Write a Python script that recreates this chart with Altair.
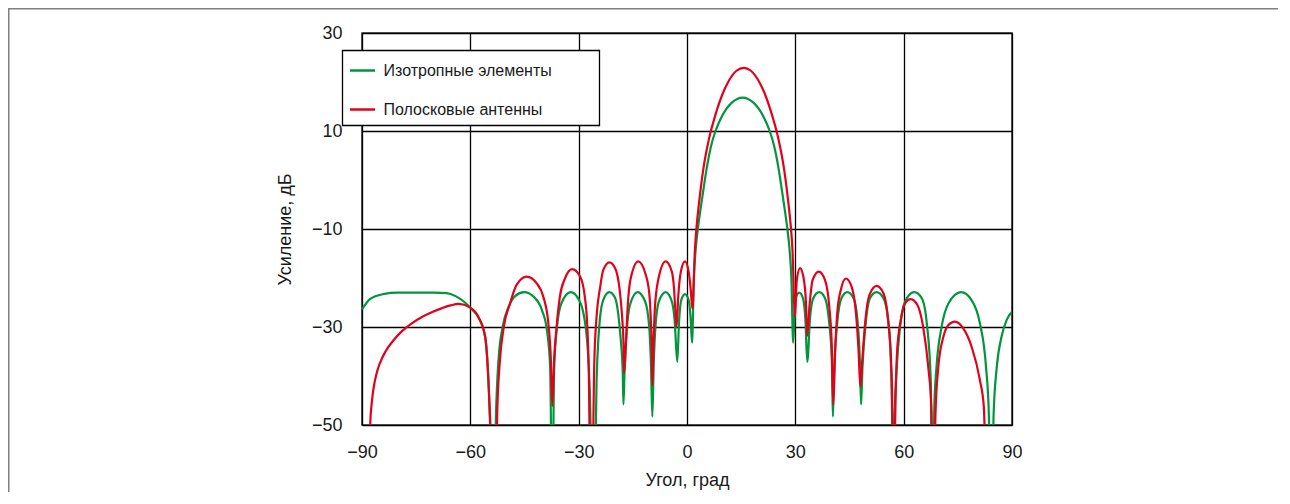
import altair as alt
import pandas as pd

# ---- data ----
series_names = ["Изотропные элементы", "Полосковые антенны"]
series_colors = ["#00963c", "#e3001b"]

green_x = [-90.0, -87.8, -84.2, -80.0, -75.0, -70.0, -66.5, -64.1, -61.8, -59.6, -57.8, -55.9, -55.0, -54.3, -53.7,
           -52.9, -52.2, -51.0, -49.4, -47.6, -45.1, -42.5, -40.2, -38.8, -37.9, -37.3,
           -36.8, -36.0, -34.8, -32.2, -29.9, -28.5, -27.6, -26.9, -25.9,
           -25.0, -24.5, -24.1, -23.2, -21.5, -19.9, -19.0, -18.3, -17.8, -17.6,
           -17.3, -16.7, -15.8, -13.7, -11.6, -10.5, -10.0, -9.6,
           -9.2, -8.7, -7.8, -5.9, -4.2, -3.4, -2.7,
           -2.2, -1.6, -0.55, 0.45, 1.0, 1.4,
           1.9, 2.4, 3.0, 3.7, 4.5, 5.3, 6.1, 7.0, 7.9, 9.4, 10.9, 12.4, 13.9, 15.4,
           16.9, 18.4, 19.9, 21.4, 22.9, 23.8, 24.7, 25.5, 26.3, 27.1, 27.8, 28.4, 28.9, 29.4,
           29.9, 30.4, 31.1, 32.1, 32.8, 33.3,
           34.1, 35.0, 36.6, 38.2, 39.3, 40.1, 40.4,
           40.8, 41.6, 42.8, 44.4, 46.1, 47.2, 47.9, 48.2,
           48.6, 49.5, 50.7, 52.5, 54.4, 55.7, 56.5, 56.9, 57.05,
           57.2, 58.1, 59.0, 60.4, 62.9, 65.0, 66.4, 67.5, 68.0,
           68.5, 69.1, 70.5, 72.4, 75.9, 78.8, 81.1, 82.8, 83.6, 84.3,
           84.9, 85.8, 87.1, 88.5, 90.0]
green_y = [-26.4, -24.3, -23.3, -23.0, -23.0, -23.0, -23.1, -23.7, -24.8, -26.4, -28.0, -32.0, -40.8, -56.0, -80.0,
           -48.0, -36.7, -29.8, -25.9, -23.7, -22.9, -23.8, -26.5, -30.6, -38.1, -70.0,
           -38.8, -30.0, -25.2, -22.9, -24.5, -27.9, -33.3, -43.5, -80.0,
           -40.0, -32.0, -28.2, -24.5, -22.9, -24.1, -27.6, -33.0, -39.1, -45.8,
           -39.1, -31.0, -25.5, -22.9, -24.8, -29.6, -37.1, -48.3,
           -37.1, -29.6, -24.8, -22.9, -24.8, -28.9, -37.1,
           -28.9, -24.5, -23.3, -24.5, -28.2, -33.2,
           -20.0, -14.2, -10.0, -6.2, -2.2, 1.7, 5.0, 7.9, 10.0, 12.6, 14.5, 15.8, 16.55, 16.8,
           16.55, 15.8, 14.5, 12.6, 10.0, 7.9, 5.0, 1.7, -2.2, -6.2, -10.0, -14.2, -20.0, -33.2,
           -25.9, -23.5, -23.0, -24.1, -28.6, -37.1,
           -27.9, -24.1, -22.9, -24.1, -28.6, -36.7, -48.3,
           -38.1, -29.2, -24.1, -22.9, -24.1, -28.6, -37.4, -45.8,
           -38.1, -29.2, -24.1, -22.9, -24.1, -28.6, -38.1, -55.0, -80.0,
           -55.0, -38.1, -30.0, -24.8, -22.9, -24.1, -29.2, -40.8, -80.0,
           -46.0, -38.1, -30.0, -25.2, -22.9, -24.5, -29.2, -38.1, -48.0, -80.0,
           -48.0, -38.1, -32.0, -28.6, -26.9]

red_x = [-88.0, -87.7, -87.3, -86.8, -86.0, -85.0, -83.5, -81.5, -79.0, -76.5, -74.0, -71.0, -68.0, -65.5, -63.2,
         -60.1, -57.8, -55.9, -55.0, -54.2, -53.4,
         -52.5, -51.8, -50.7, -49.0, -47.2, -44.4, -41.6, -39.8, -38.4, -37.7, -37.3,
         -36.8, -36.1, -35.2, -33.8, -31.8, -29.6, -28.3, -27.6, -27.2, -26.5,
         -25.7, -25.0, -24.1, -23.2, -21.5, -19.9, -18.7, -18.0, -17.6, -17.4,
         -16.9, -16.4, -15.6, -13.5, -11.4, -10.4, -10.0, -9.7, -9.6,
         -9.3, -8.9, -7.9, -5.9, -4.2, -3.6, -3.2, -2.9,
         -2.4, -1.7, -0.55, 0.45, 1.0, 1.5,
         2.2, 2.7, 3.2, 3.8, 4.7, 5.6, 6.6, 7.4, 8.2, 9.7, 11.7, 13.7, 15.7,
         17.7, 19.7, 21.7, 23.2, 24.0, 24.8, 25.8, 26.7, 27.6, 28.2, 28.7, 29.2, 29.9,
         30.4, 31.3, 32.2, 32.9, 33.3,
         33.9, 34.8, 36.5, 38.2, 39.4, 40.1, 40.5,
         41.0, 41.6, 42.6, 44.0, 45.6, 46.8, 47.5, 48.0,
         48.6, 49.4, 50.5, 52.5, 54.4, 55.7, 56.5, 56.8, 57.2,
         57.6, 58.2, 59.2, 60.4, 61.9, 63.8, 65.4, 66.8, 67.7, 68.3,
         68.8, 69.6, 71.0, 72.4, 74.2, 76.5, 78.8, 81.1, 82.2, 83.1]
red_y = [-58.0, -49.5, -45.5, -42.5, -39.6, -37.3, -35.0, -32.9, -30.9, -29.4, -28.2, -27.1, -26.2, -25.6, -25.3,
         -26.0, -27.9, -32.0, -40.8, -56.0, -80.0,
         -46.1, -36.7, -29.8, -25.2, -21.4, -19.7, -21.1, -23.8, -29.2, -36.7, -46.1,
         -36.7, -29.8, -23.8, -20.1, -18.2, -19.7, -23.8, -30.0, -38.8, -80.0,
         -38.0, -27.5, -22.1, -18.4, -16.8, -18.0, -22.1, -27.6, -33.0, -39.4,
         -33.0, -25.5, -20.1, -16.6, -19.4, -23.5, -28.9, -35.7, -42.0,
         -34.3, -26.2, -20.1, -16.6, -18.7, -22.1, -27.0, -30.1,
         -23.5, -18.7, -16.6, -18.7, -22.1, -26.3,
         -14.1, -9.1, -5.5, -1.7, 3.1, 6.7, 10.0, 12.1, 14.1, 17.3, 20.4, 22.3, 22.9,
         22.3, 20.4, 17.3, 14.1, 12.1, 10.0, 6.7, 3.1, -1.7, -5.5, -9.1, -14.1, -27.9,
         -20.4, -18.0, -19.7, -24.5, -31.8,
         -25.9, -20.4, -18.7, -20.4, -25.9, -34.0, -45.9,
         -35.4, -27.2, -22.4, -20.1, -21.8, -27.2, -34.7, -42.2,
         -36.1, -28.6, -23.5, -21.6, -23.1, -28.6, -36.7, -44.1, -80.0,
         -52.0, -34.7, -28.6, -25.2, -24.3, -25.5, -30.0, -38.1, -47.0, -80.0,
         -48.0, -38.1, -32.0, -29.6, -28.9, -30.3, -34.0, -40.8, -46.3, -80.0]

x_ticks = [-90, -60, -30, 0, 30, 60, 90]
y_ticks = [30, 10, -10, -30, -50]

green_df = pd.DataFrame({"angle": green_x, "gain": green_y, "series": series_names[0]})
red_df = pd.DataFrame({"angle": red_x, "gain": red_y, "series": series_names[1]})

FONT = "Liberation Sans"

x_enc = alt.X("angle:Q", scale=alt.Scale(domain=[-90, 90], nice=False, zero=False),
              axis=alt.Axis(values=x_ticks, title="Угол, град", labelPadding=18, titlePadding=10,
                            labelFlush=False))
y_enc = alt.Y("gain:Q", scale=alt.Scale(domain=[-50, 30], nice=False, zero=False),
              axis=alt.Axis(values=y_ticks, title="Усиление, дБ", labelPadding=20, titlePadding=17,
                            labelFlush=False))
color_enc = alt.Color("series:N",
                      scale=alt.Scale(domain=series_names, range=series_colors),
                      legend=alt.Legend(title=None, orient="none", legendX=-20, legendY=17,
                                        symbolType="stroke", symbolSize=625, symbolStrokeWidth=2.5,
                                        labelFontSize=16, labelFont=FONT, labelColor="#1a1a1a",
                                        labelLimit=500,
                                        labelOffset=7, rowPadding=17, padding=6.5))

# page frame and legend box (decoration)
frame = alt.Chart(alt.Data(values=[{}])).mark_rect(
    fillOpacity=0, stroke="#808080", strokeWidth=2
).encode(x=alt.value(-353.5), x2=alt.value(1500), y=alt.value(-24.5), y2=alt.value(1500))

legend_box = alt.Chart(alt.Data(values=[{}])).mark_rect(
    fill="white", stroke="black", strokeWidth=1.3
).encode(x=alt.value(-19.5), x2=alt.value(237.5), y=alt.value(17.5), y2=alt.value(92.5))

green_line = alt.Chart(green_df).mark_line(strokeWidth=2.2, interpolate="monotone", clip=True).encode(
    x=x_enc, y=y_enc, color=color_enc, order=alt.Order("angle:Q"))
red_line = alt.Chart(red_df).mark_line(strokeWidth=2.2, interpolate="monotone", clip=True).encode(
    x=x_enc, y=y_enc, color=color_enc, order=alt.Order("angle:Q"))

chart = alt.layer(frame, green_line, red_line, legend_box).properties(
    width=650, height=392,
    padding={"left": 354, "top": 25, "right": 266, "bottom": 67},
    autosize=alt.AutoSizeParams(type="none"),
).configure_view(
    stroke="#333333", strokeWidth=1.6
).configure_axis(
    grid=True, gridColor="black", gridWidth=1.3, gridOpacity=1,
    domain=False, ticks=False,
    labelFont=FONT, labelFontSize=18, labelColor="#1a1a1a",
    titleFont=FONT, titleFontSize=18, titleFontWeight="normal", titleColor="#1a1a1a",
)

chart.save("out.html", embed_options={"renderer": "svg", "actions": False})
